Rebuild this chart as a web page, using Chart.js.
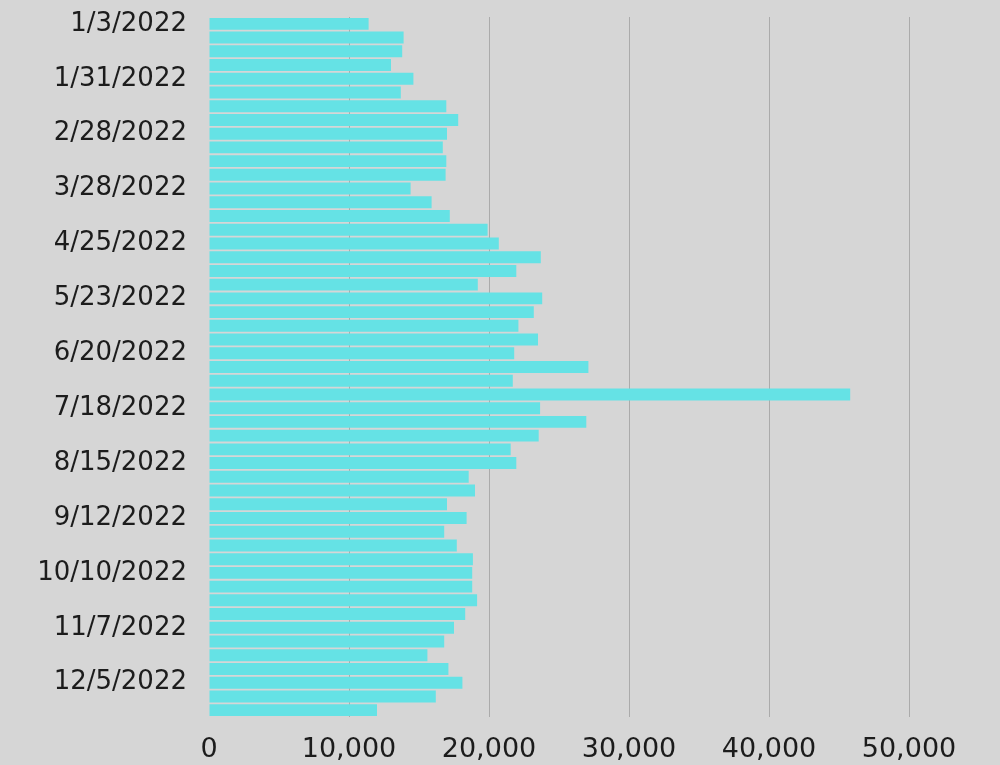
<!DOCTYPE html>
<html>
<head>
<meta charset="utf-8">
<script src="https://cdn.jsdelivr.net/npm/chart.js@4"></script>
<style>
  html, body { margin: 0; padding: 0; background: #d6d6d6; }
  #wrap { width: 1000px; height: 765px; }
</style>
</head>
<body>
<div id="wrap"><canvas id="chart" width="1000" height="765"></canvas></div>
<script>
// Weekly periods (week starting dates)
const weeks = [
  "1/3/2022", "1/10/2022", "1/17/2022", "1/24/2022", "1/31/2022", "2/7/2022", "2/14/2022",
  "2/21/2022", "2/28/2022", "3/7/2022", "3/14/2022", "3/21/2022", "3/28/2022", "4/4/2022",
  "4/11/2022", "4/18/2022", "4/25/2022", "5/2/2022", "5/9/2022", "5/16/2022", "5/23/2022",
  "5/30/2022", "6/6/2022", "6/13/2022", "6/20/2022", "6/27/2022", "7/4/2022", "7/11/2022",
  "7/18/2022", "7/25/2022", "8/1/2022", "8/8/2022", "8/15/2022", "8/22/2022", "8/29/2022",
  "9/5/2022", "9/12/2022", "9/19/2022", "9/26/2022", "10/3/2022", "10/10/2022", "10/17/2022",
  "10/24/2022", "10/31/2022", "11/7/2022", "11/14/2022", "11/21/2022", "11/28/2022",
  "12/5/2022", "12/12/2022", "12/19/2022"
];

// Weekly totals
const weeklyValues = [
  11400, 13900, 13800, 13000, 14600, 13700, 16950,
  17800, 17000, 16700, 16950, 16900, 14400, 15900,
  17200, 19900, 20700, 23700, 21950, 19200, 23800,
  23200, 22100, 23500, 21800, 27100, 21700, 45800,
  23650, 26950, 23550, 21550, 21950, 18550, 19000,
  17000, 18400, 16800, 17700, 18850, 18800, 18800,
  19150, 18300, 17500, 16800, 15600, 17100,
  18100, 16200, 12000
];

// Value axis ticks
const valueTicks = [0, 10000, 20000, 30000, 40000, 50000];
// Show a date label every fourth week
const labelEvery = 4;

const textColor = "#1c1c1c";

new Chart(document.getElementById("chart"), {
  type: "bar",
  data: {
    labels: weeks,
    datasets: [{
      data: weeklyValues,
      backgroundColor: "#65e2e5",
      borderWidth: 0,
      categoryPercentage: 1.0,
      barPercentage: 0.87
    }]
  },
  options: {
    indexAxis: "y",
    responsive: false,
    animation: false,
    layout: { padding: { left: 0, right: 91, top: 17, bottom: 0 } },
    plugins: {
      legend: { display: false },
      tooltip: { enabled: false }
    },
    scales: {
      x: {
        min: valueTicks[0],
        max: valueTicks[valueTicks.length - 1],
        afterBuildTicks: (scale) => { scale.ticks = valueTicks.map(v => ({ value: v })); },
        border: { display: false },
        grid: {
          drawTicks: false,
          color: (ctx) => ctx.tick && ctx.tick.value === 0 ? "rgba(0,0,0,0)" : "#ababab",
          lineWidth: 1
        },
        ticks: {
          padding: 17,
          color: textColor,
          font: { family: "DejaVu Sans", size: 27 },
          callback: (v) => Number(v).toLocaleString("en-US")
        },
        afterFit: (scale) => { scale.height = 48; }
      },
      y: {
        border: { display: false },
        // tick marks hidden; their length only sets the gap before the labels
        grid: { display: false, drawTicks: true, tickLength: 22 },
        ticks: {
          autoSkip: false,
          padding: 0,
          color: textColor,
          font: { family: "DejaVu Sans", size: 26 },
          callback: function (v, i) { return i % labelEvery === 0 ? weeks[i] : ""; }
        },
        afterFit: (scale) => { scale.width = 209; }
      }
    }
  }
});
</script>
</body>
</html>
